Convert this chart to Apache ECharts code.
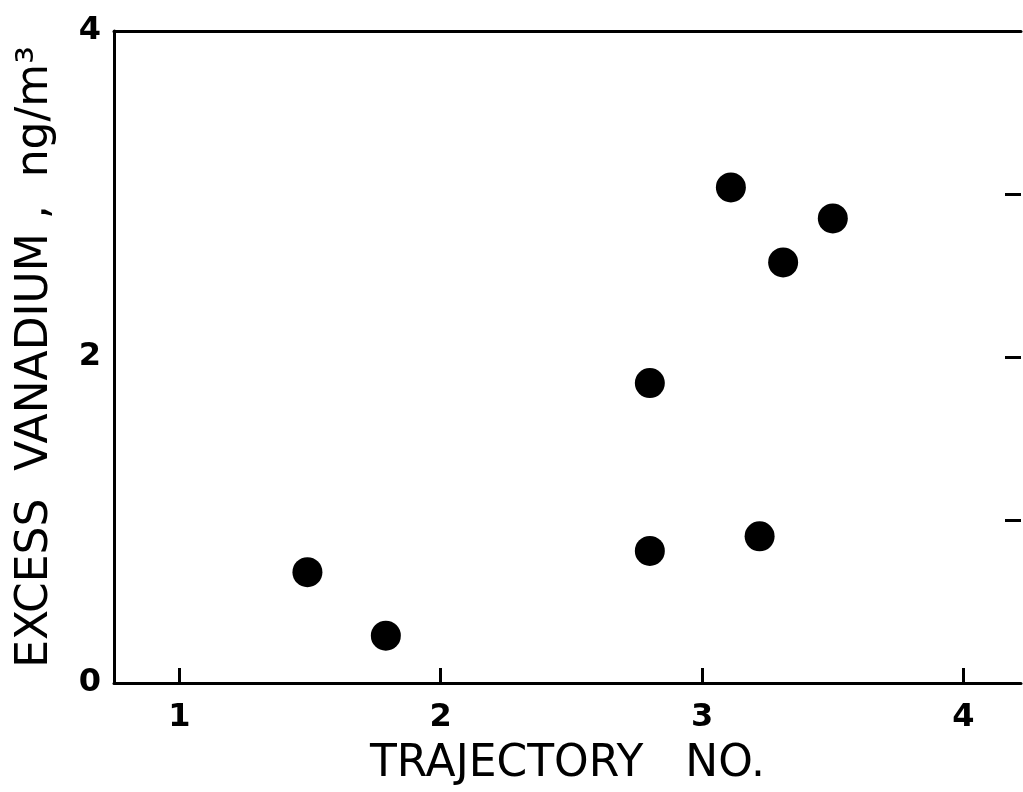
<!DOCTYPE html>
<html>
<head>
<meta charset="utf-8">
<script src="https://cdn.jsdelivr.net/npm/echarts@6/dist/echarts.min.js"></script>
<style>
  html, body { margin: 0; padding: 0; background: #fff; }
  #chart { width: 1023px; height: 792px; }
</style>
</head>
<body>
<div id="chart"></div>
<script>
// Trajectory number vs. excess vanadium concentration
const trajectoryNo = [1.49, 1.79, 2.80, 2.80, 3.11, 3.22, 3.31, 3.50];
const excessVanadium = [0.68, 0.29, 0.81, 1.84, 3.04, 0.90, 2.58, 2.85];
const xTicks = [1, 2, 3, 4];
const yLabelTicks = [0, 2, 4];
const yRightTicks = [1, 2, 3];
const xTitle = 'TRAJECTORY   NO.';
const yTitle = 'EXCESS  VANADIUM ,  ng/m³';

const points = trajectoryNo.map((x, i) => [x, excessVanadium[i]]);

const ink = '#000';
const font = 'DejaVu Sans';
const xMin = 0.75, xMax = 4.22;

const chart = echarts.init(document.getElementById('chart'), null, { renderer: 'canvas' });
chart.setOption({
  backgroundColor: '#fff',
  animation: false,
  grid: { left: 114, top: 31, right: 2, bottom: 102, containLabel: false },
  xAxis: [
    {
      type: 'value', position: 'bottom', min: xMin, max: xMax,
      name: xTitle, nameLocation: 'middle', nameGap: 60,
      nameTextStyle: { fontFamily: font, fontSize: 44, color: ink },
      axisLine: { show: true, onZero: false, lineStyle: { color: ink, width: 3 } },
      axisTick: { show: true, inside: true, length: 15, lineStyle: { color: ink, width: 3 }, customValues: xTicks },
      axisLabel: { show: true, margin: 19, fontFamily: font, fontSize: 32, fontWeight: 'bold', color: ink, customValues: xTicks },
      splitLine: { show: false }
    },
    {
      type: 'value', position: 'top', min: xMin, max: xMax,
      axisLine: { show: true, onZero: false, lineStyle: { color: ink, width: 3 } },
      axisTick: { show: false }, axisLabel: { show: false }, splitLine: { show: false }
    }
  ],
  yAxis: [
    {
      type: 'value', position: 'left', min: 0, max: 4,
      name: yTitle, nameLocation: 'middle', nameGap: 56, nameRotate: 90,
      nameTextStyle: { fontFamily: font, fontSize: 44, color: ink },
      axisLine: { show: true, onZero: false, lineStyle: { color: ink, width: 3 } },
      axisTick: { show: false },
      axisLabel: { show: true, margin: 13, fontFamily: font, fontSize: 32, fontWeight: 'bold', color: ink, customValues: yLabelTicks },
      splitLine: { show: false }
    },
    {
      type: 'value', position: 'right', min: 0, max: 4,
      axisLine: { show: false, onZero: false },
      axisTick: { show: true, inside: true, length: 16, lineStyle: { color: ink, width: 3 }, customValues: yRightTicks },
      axisLabel: { show: false }, splitLine: { show: false }
    }
  ],
  series: [{
    type: 'scatter',
    xAxisIndex: 0, yAxisIndex: 0,
    data: points,
    symbol: 'circle', symbolSize: 30,
    itemStyle: { color: ink, opacity: 1 }
  }]
});
</script>
</body>
</html>
